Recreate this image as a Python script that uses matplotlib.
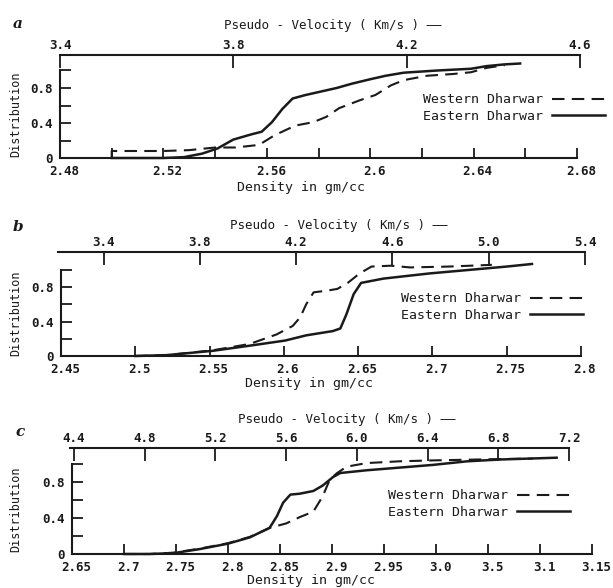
import numpy as np
import matplotlib
matplotlib.use("Agg")
import matplotlib.pyplot as plt
import matplotlib.transforms as mtransforms
from matplotlib.ticker import FixedLocator

# ---------------- data ----------------
# Panel a
a_east_density = [2.500, 2.520, 2.528, 2.535, 2.541, 2.547, 2.554, 2.558, 2.562, 2.566,
                  2.570, 2.575, 2.587, 2.593, 2.600, 2.606, 2.613, 2.626, 2.639, 2.645,
                  2.652, 2.658]
a_east_dist = [0.00, 0.00, 0.01, 0.05, 0.11, 0.21, 0.27, 0.30, 0.41, 0.56,
               0.68, 0.72, 0.80, 0.85, 0.90, 0.94, 0.975, 1.00, 1.02, 1.05,
               1.07, 1.08]
a_west_density = [2.500, 2.500, 2.520, 2.530, 2.540, 2.548, 2.557, 2.563, 2.571, 2.578,
                  2.583, 2.588, 2.596, 2.602, 2.608, 2.613, 2.622, 2.632, 2.639, 2.645,
                  2.652]
a_west_dist = [0.00, 0.08, 0.08, 0.09, 0.12, 0.12, 0.15, 0.26, 0.37, 0.41,
               0.47, 0.57, 0.66, 0.72, 0.83, 0.89, 0.94, 0.96, 0.98, 1.03,
               1.06]

# Panel b
b_east_density = [2.500, 2.521, 2.552, 2.577, 2.601, 2.615, 2.633, 2.638, 2.642, 2.647,
                  2.652, 2.667, 2.698, 2.724, 2.750, 2.767]
b_east_dist = [0.00, 0.01, 0.06, 0.12, 0.18, 0.24, 0.29, 0.32, 0.48, 0.72,
               0.85, 0.90, 0.96, 1.00, 1.04, 1.07]
b_west_density = [2.500, 2.521, 2.552, 2.577, 2.595, 2.606, 2.611, 2.615, 2.620, 2.629,
                  2.636, 2.643, 2.651, 2.659, 2.672, 2.685, 2.711, 2.740]
b_west_dist = [0.00, 0.01, 0.066, 0.14, 0.25, 0.35, 0.45, 0.60, 0.74, 0.76,
               0.78, 0.85, 0.96, 1.04, 1.05, 1.03, 1.04, 1.06]

# Panel c
c_east_density = [2.700, 2.725, 2.748, 2.773, 2.800, 2.821, 2.840, 2.847, 2.853, 2.860,
                  2.869, 2.882, 2.891, 2.901, 2.908, 2.933, 2.965, 2.997, 3.030, 3.062,
                  3.116]
c_east_dist = [0.00, 0.00, 0.01, 0.055, 0.115, 0.185, 0.29, 0.42, 0.57, 0.66,
               0.67, 0.70, 0.76, 0.855, 0.90, 0.93, 0.96, 0.99, 1.03, 1.05,
               1.07]
c_west_density = [2.700, 2.725, 2.748, 2.773, 2.800, 2.821, 2.840, 2.856, 2.869, 2.882,
                  2.891, 2.898, 2.905, 2.914, 2.933, 2.965, 2.997, 3.062, 3.093]
c_west_dist = [0.00, 0.00, 0.015, 0.06, 0.12, 0.19, 0.29, 0.34, 0.41, 0.47,
               0.64, 0.83, 0.90, 0.97, 1.01, 1.03, 1.04, 1.055, 1.06]

# Axis ticks and labels
a_xticks = [2.48, 2.50, 2.52, 2.54, 2.56, 2.58, 2.60, 2.62, 2.64, 2.66, 2.68]
a_xlabels = ["2.48", "", "2.52", "", "2.56", "", "2.6", "", "2.64", "", "2.68"]
b_xticks = [2.45, 2.50, 2.55, 2.60, 2.65, 2.70, 2.75, 2.80]
b_xlabels = ["2.45", "2.5", "2.55", "2.6", "2.65", "2.7", "2.75", "2.8"]
c_xticks = [2.65, 2.70, 2.75, 2.80, 2.85, 2.90, 2.95, 3.00, 3.05, 3.10, 3.15]
c_xlabels = ["2.65", "2.7", "2.75", "2.8", "2.85", "2.9", "2.95", "3.0", "3.5", "3.1", "3.15"]

a_vticks = [3.4, 3.8, 4.2, 4.6]
a_vlabels = ["3.4", "3.8", "4.2", "4.6"]
b_vticks = [3.4, 3.8, 4.2, 4.6, 5.0, 5.4]
b_vlabels = ["3.4", "3.8", "4.2", "4.6", "5.0", "5.4"]
c_vticks = [4.4, 4.8, 5.2, 5.6, 6.0, 6.4, 6.8, 7.2]
c_vlabels = ["4.4", "4.8", "5.2", "5.6", "6.0", "6.4", "6.8", "7.2"]

y_ticks = [0, 0.2, 0.4, 0.6, 0.8, 1.0]
y_labels = ["0", "", "0.4", "", "0.8", ""]

series_names = ["Western Dharwar", "Eastern Dharwar"]

# ---------------- layout ----------------
W, H = 613, 588
fig = plt.figure(figsize=(W / 100, H / 100), dpi=100)
fig.patch.set_facecolor("white")
INK = "#1a1a1a"
MONO = "DejaVu Sans Mono"
plt.rcParams["font.family"] = [MONO, "DejaVu Sans"]

def fx(x):
    return x / W

def fy(y):
    return 1 - y / H

YMAX = 1.15
shift_right = mtransforms.ScaledTranslation(0.04, 0, fig.dpi_scale_trans)

def panel(letter, x0, x1, base, unit, xlim, xticks, xlabels,
          tline_y, tx0, tx1, vlim, vticks, vlabels,
          east, west, leg_xy, title_x, title_y, dens_x, dens_y, letter_xy):
    ax = fig.add_axes([fx(x0), fy(base), (x1 - x0) / W, YMAX * unit / H])
    ax.set_xlim(*xlim)
    ax.set_ylim(0, YMAX)
    for s in ["top", "right"]:
        ax.spines[s].set_visible(False)
    ax.spines["left"].set_bounds(0, 1.0)
    for s in ["left", "bottom"]:
        ax.spines[s].set_linewidth(1.5)
        ax.spines[s].set_color(INK)
    ax.patch.set_alpha(0)
    ax.xaxis.set_major_locator(FixedLocator(xticks))
    ax.set_xticklabels(xlabels)
    ax.set_yticks(y_ticks)
    ax.set_yticklabels(y_labels)
    ax.tick_params(axis="x", direction="in", length=7, width=1.3, pad=5,
                   labelsize=9, colors=INK)
    ax.tick_params(axis="y", direction="in", length=8, width=1.3, pad=5,
                   labelsize=9, colors=INK)
    for lab in ax.get_xticklabels():
        lab.set_fontweight("bold")
        lab.set_transform(lab.get_transform() + shift_right)
    for lab in ax.get_yticklabels():
        lab.set_fontweight("bold")

    lw, = ax.plot(west[0], west[1], color=INK, lw=1.5, ls=(0, (6, 3.5)),
                  clip_on=False, label=series_names[0])
    le, = ax.plot(east[0], east[1], color=INK, lw=1.8, ls="-",
                  clip_on=False, label=series_names[1])

    leg = ax.legend(handles=[lw, le], loc="center left",
                    bbox_to_anchor=(fx(leg_xy[0]), fy(leg_xy[1])),
                    bbox_transform=fig.transFigure, frameon=False,
                    markerfirst=False, handlelength=4.0, handletextpad=0.7,
                    labelspacing=0.25, fontsize=9.5, borderpad=0, borderaxespad=0)
    for t in leg.get_texts():
        t.set_color(INK)

    ax.set_ylabel("Distribution", fontsize=8.5, color=INK)
    ax.yaxis.set_label_coords(-(x0 - 22) / (x1 - x0), 0.5 / YMAX)
    ax.set_xlabel("Density in gm/cc", fontsize=9.5, color=INK)
    ax.xaxis.set_label_coords((dens_x - x0) / (x1 - x0),
                              -(dens_y - 6 - base) / (YMAX * unit))

    # top velocity axis
    tax = fig.add_axes([fx(tx0), fy(tline_y) - 0.02, (tx1 - tx0) / W, 0.02])
    tax.set_xlim(*vlim)
    tax.set_ylim(0, 1)
    tax.patch.set_alpha(0)
    for s in ["left", "right", "bottom"]:
        tax.spines[s].set_visible(False)
    tax.spines["top"].set_linewidth(1.5)
    tax.spines["top"].set_color(INK)
    tax.set_yticks([])
    tax.xaxis.set_ticks_position("top")
    tax.set_xticks(vticks)
    tax.set_xticklabels(vlabels)
    tax.tick_params(axis="x", direction="in", length=9, width=1.3, pad=2,
                    labelsize=9, colors=INK)
    for lab in tax.get_xticklabels():
        lab.set_fontweight("bold")

    fig.text(fx(title_x), fy(title_y), "Pseudo - Velocity ( Km/s ) \u2014\u2014",
             ha="center", va="center", fontsize=9, color=INK)
    fig.text(fx(letter_xy[0]), fy(letter_xy[1]), letter, ha="center", va="center",
             fontsize=11, style="italic", fontweight="bold",
             family="DejaVu Serif", color=INK)
    return ax


panel("a", 60, 577, 158, 87.5, (2.48, 2.68), a_xticks, a_xlabels,
      55, 60, 580, (3.4, 4.6), a_vticks, a_vlabels,
      (a_east_density, a_east_dist), (a_west_density, a_west_dist),
      (423, 108), 333, 25, 301, 187, (18, 24))

panel("b", 61, 581, 356, 86, (2.45, 2.80), b_xticks, b_xlabels,
      252, 58, 585, (3.211, 5.4), b_vticks, b_vlabels,
      (b_east_density, b_east_dist), (b_west_density, b_west_dist),
      (401, 307), 339, 225, 309, 383, (18, 227))

panel("c", 72, 592, 554, 90, (2.65, 3.15), c_xticks, c_xlabels,
      448, 70, 569, (4.377, 7.2), c_vticks, c_vlabels,
      (c_east_density, c_east_dist), (c_west_density, c_west_dist),
      (388, 504), 347, 419, 311, 580, (20, 432))

fig.savefig("out.png", dpi=100, facecolor="white")
